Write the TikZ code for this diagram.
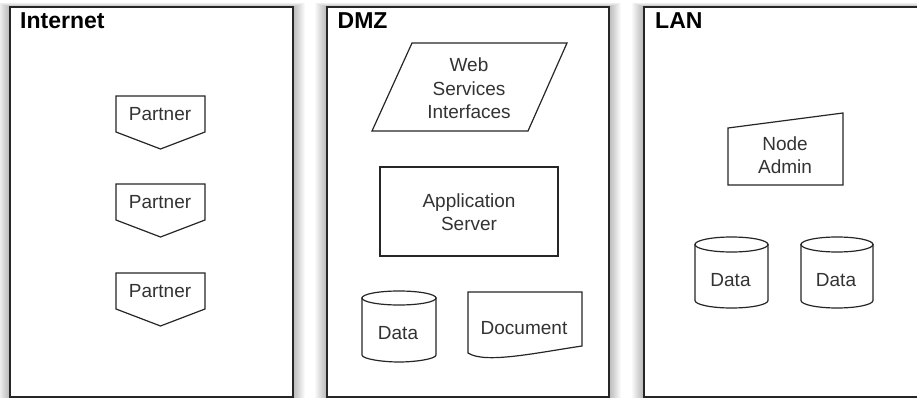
\documentclass[tikz,border=0pt]{standalone}
\usepackage{fontspec}
\setmainfont{Liberation Sans}
\begin{document}
\begin{tikzpicture}[x=1pt,y=-1pt,
  zone/.style={draw=black!85, line width=1.4pt, fill=white},
  zonetitle/.style={anchor=base west, font=\fontsize{23}{26}\selectfont\bfseries, inner sep=0pt, text=black},
  shp/.style={draw=black!85, line width=1.2pt, fill=white, line join=miter},
  lbl/.style={font=\fontsize{19}{23.5}\selectfont, text=black!80, align=center, inner sep=0pt},
  halo/.style={fill=black, opacity=0.022}
]
\useasboundingbox (0,0) rectangle (917,398);
\clip (0,0) rectangle (917,398);
\fill[white] (0,0) rectangle (917,398);

% soft shadows of the zones
\foreach \i in {1,...,12}{
  \fill[halo] (10-\i,7-0.35*\i) rectangle (293+\i,397+\i);
  \fill[halo] (327-\i,7-0.35*\i) rectangle (609+\i,397+\i);
  \fill[halo] (644-\i,7-0.35*\i) rectangle (930+\i,397+\i);
}

% zones
\draw[zone] (10,7) rectangle (293,397);
\draw[zone] (327,7) rectangle (609,397);
\draw[zone] (644,7) rectangle (930,397);
\node[zonetitle] (tinternet) at (20,28.5) {Internet};
\node[zonetitle] (tdmz) at (337.5,28.5) {DMZ};
\node[zonetitle] (tlan) at (655,28.5) {LAN};

% Internet: partners
\foreach \t/\n in {96/p1,184/p2,273/p3}{
  \draw[shp] (116,\t) -- (205,\t) -- (205,\t+36) -- (160.5,\t+53) -- (116,\t+36) -- cycle;
  \node[lbl] (\n) at (160,\t+18) {Partner};
}

% DMZ
\draw[shp] (412,43) -- (567,43) -- (528,131) -- (372,131) -- cycle;
\node[lbl] (wsi) at (469,88.5) {Web\\Services\\Interfaces};

\draw[shp] (380,167) rectangle (558,256);
\node[lbl] (app) at (469,212) {Application\\Server};

% DMZ data cylinder
\draw[shp] (362,298) -- (362,355)
  .. controls (362,358.9) and (382.4,362) .. (399,362)
  .. controls (415.6,362) and (436,358.9) .. (436,355)
  -- (436,298) -- cycle;
\draw[shp] (399,298) ellipse [x radius=37, y radius=7];
\node[lbl] (ddata) at (398,333) {Data};

% Document
\draw[shp] (468,292) -- (582,292) -- (582,346)
  .. controls (535,353) and (485,364) .. (468,353) -- cycle;
\node[lbl] (doc) at (524,328) {Document};

% LAN
\draw[shp] (728,128) -- (843,113) -- (843,185) -- (728,185) -- cycle;
\node[lbl] (admin) at (785,155) {Node\\Admin};

\foreach \l/\r/\n in {695/768/ld1, 801/873/ld2}{
  \pgfmathsetmacro\cx{(\l+\r)/2}
  \pgfmathsetmacro\rx{(\r-\l)/2}
  \draw[shp] (\l,244.5) -- (\l,300.5)
    .. controls (\l,304.6) and (\cx-0.552*\rx,308) .. (\cx,308)
    .. controls (\cx+0.552*\rx,308) and (\r,304.6) .. (\r,300.5)
    -- (\r,244.5) -- cycle;
  \draw[shp] (\cx,244.5) ellipse [x radius=\rx, y radius=7.5];
  \node[lbl] (\n) at (\cx-1,280) {Data};
}
\end{tikzpicture}
\end{document}
